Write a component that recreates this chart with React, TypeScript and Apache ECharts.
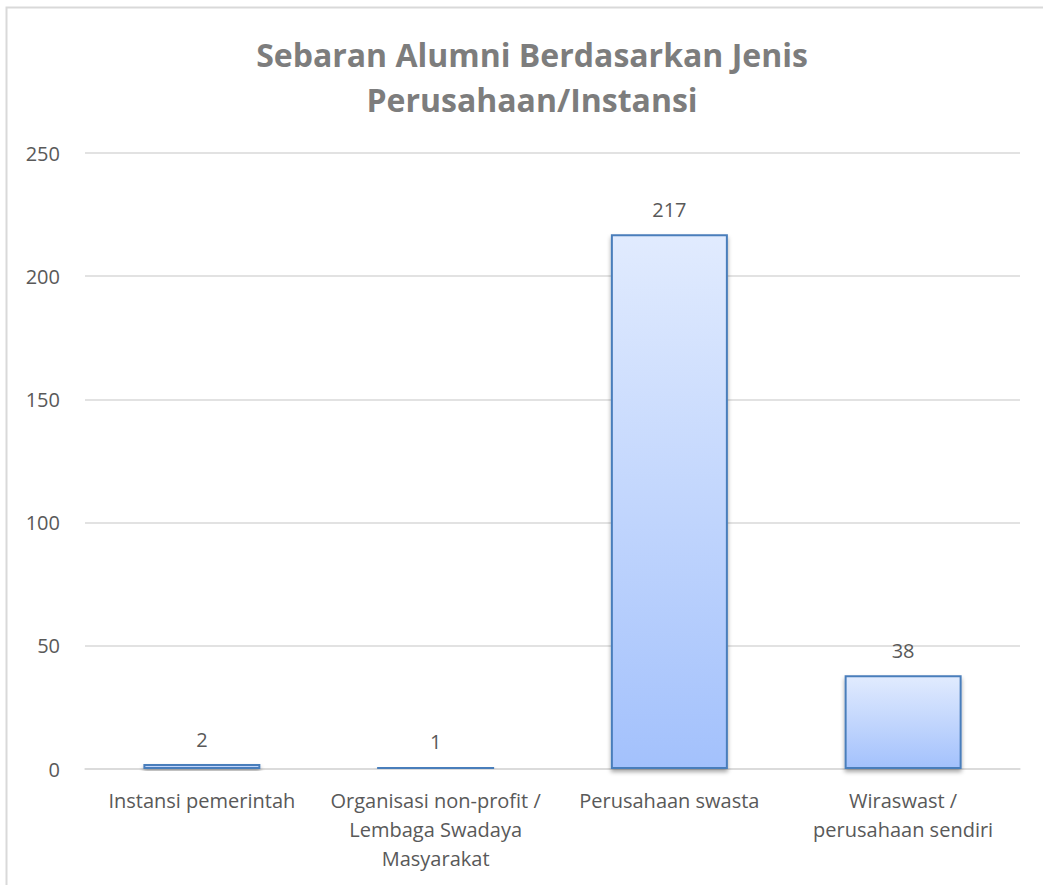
import React, { useEffect, useRef } from "react";
import * as echarts from "echarts";

const categories = [
  "Instansi pemerintah",
  "Organisasi non-profit /\nLembaga Swadaya\nMasyarakat",
  "Perusahaan swasta",
  "Wiraswast /\nperusahaan sendiri",
];
const values = [2, 1, 217, 38];
const titleText = "Sebaran Alumni Berdasarkan Jenis\nPerusahaan/Instansi";

export default function App() {
  const ref = useRef<HTMLDivElement>(null);
  useEffect(() => {
    if (!ref.current) return;
    const chart = echarts.init(ref.current, undefined, { renderer: "svg" });
    const font = "'Open Sans', sans-serif";
    chart.setOption({
      animation: false,
      backgroundColor: "#ffffff",
      title: {
        text: titleText,
        left: 527,
        textAlign: "center",
        top: 27,
        textStyle: {
          fontFamily: font,
          fontSize: 32,
          fontWeight: "bold",
          color: "#7d7d7d",
          lineHeight: 45,
        },
      },
      graphic: [
        {
          type: "rect",
          shape: { x: 6.5, y: 7.5, width: 1100, height: 1000 },
          style: { fill: "none", stroke: "#d9d9d9", lineWidth: 2 },
          silent: true,
        },
      ],
      grid: { left: 85, right: 23, top: 153, bottom: 116, containLabel: false },
      xAxis: {
        type: "category",
        data: categories,
        axisLine: { lineStyle: { color: "#d9d9d9", width: 1.5 } },
        axisTick: { show: false },
        axisLabel: {
          fontFamily: font,
          fontSize: 20,
          color: "#595959",
          lineHeight: 29,
          margin: 17,
          interval: 0,
        },
      },
      yAxis: {
        type: "value",
        min: 0,
        max: 250,
        interval: 50,
        axisLine: { show: false },
        axisTick: { show: false },
        axisLabel: {
          fontFamily: font,
          fontSize: 20,
          color: "#595959",
          margin: 25,
        },
        splitLine: { lineStyle: { color: "#d9d9d9", width: 1.5 } },
      },
      series: [
        {
          type: "bar",
          data: values,
          barWidth: 117,
          itemStyle: {
            color: new echarts.graphic.LinearGradient(0, 0, 0, 1, [
              { offset: 0, color: "#e1ebfe" },
              { offset: 1, color: "#a3c1fc" },
            ]),
            borderColor: "#4a7ebb",
            borderWidth: 2,
            shadowColor: "rgba(0,0,0,0.35)",
            shadowBlur: 4,
            shadowOffsetY: 3,
          },
          label: {
            show: true,
            position: "top",
            distance: 15,
            fontFamily: font,
            fontSize: 20,
            color: "#595959",
          },
        },
      ],
    });
    return () => chart.dispose();
  }, []);
  return (
    <div
      ref={ref}
      style={{ position: "absolute", left: 0, top: 0, width: 1043, height: 885 }}
    />
  );
}
